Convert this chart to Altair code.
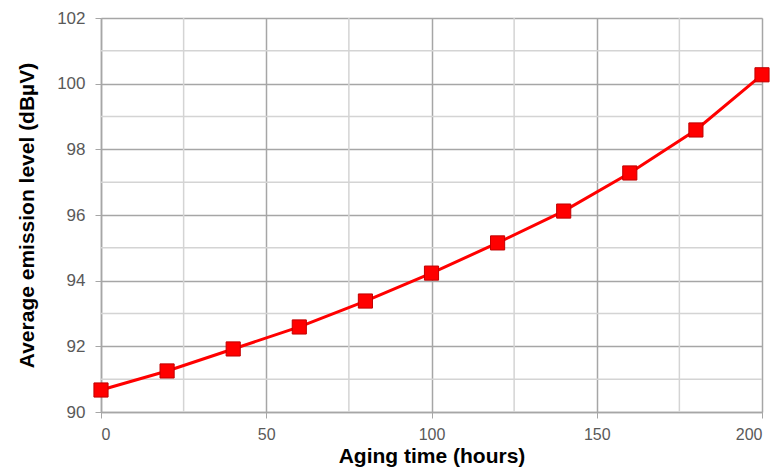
import altair as alt
import pandas as pd

hours = [0, 20, 40, 60, 80, 100, 120, 140, 160, 180, 200]
emission = [90.67, 91.25, 91.92, 92.59, 93.38, 94.23, 95.15, 96.12, 97.28, 98.59, 100.27]

x_major = [0, 50, 100, 150, 200]
x_minor = [25, 75, 125, 175]
y_major = [90, 92, 94, 96, 98, 100, 102]
y_minor = [91, 93, 95, 97, 99, 101]

df = pd.DataFrame({"hours": hours, "emission": emission})
xs = alt.Scale(domain=[0, 200], nice=False)
ys = alt.Scale(domain=[90, 102], nice=False, zero=False)

FONT = "Liberation Sans, Arial, sans-serif"

xaxis = alt.Axis(values=x_major, grid=True,
                 gridColor="#a6a6a6", gridWidth=1.5, tickSize=6, tickColor="#a6a6a6",
                 domainColor="#a6a6a6", domainWidth=1.5, labelFontSize=16, labelColor="#595959",
                 labelFont=FONT, titleFont=FONT, titleFontSize=21, titleFontWeight="bold",
                 titleColor="#000000", labelPadding=8, titlePadding=3)
yaxis = alt.Axis(values=y_major, grid=True,
                 gridColor="#a6a6a6", gridWidth=1.5, tickSize=6, tickColor="#a6a6a6",
                 domainColor="#a6a6a6", domainWidth=1.5, labelFontSize=17, labelColor="#595959",
                 labelFont=FONT, titleFont=FONT, titleFontSize=21, titleFontWeight="bold",
                 titleColor="#000000", labelPadding=10, titlePadding=19)
XT = "Aging time (hours)"
YT = "Average emission level (dBµV)"

xminor = alt.Chart(pd.DataFrame({"v": x_minor})).mark_rule(color="#d4d4d4", strokeWidth=1.5).encode(
    x=alt.X("v:Q", scale=xs, axis=xaxis, title=XT))
yminor = alt.Chart(pd.DataFrame({"v": y_minor})).mark_rule(color="#d4d4d4", strokeWidth=1.5).encode(
    y=alt.Y("v:Q", scale=ys, axis=yaxis, title=YT))

line = alt.Chart(df).mark_line(color="#ff0000", strokeWidth=3).encode(
    x=alt.X("hours:Q", scale=xs, axis=xaxis, title=XT),
    y=alt.Y("emission:Q", scale=ys, axis=yaxis, title=YT),
)
points = alt.Chart(df).mark_point(shape="square", filled=True, size=200, color="#ff0000",
                                  stroke="#c00000", strokeWidth=1, opacity=1).encode(
    x=alt.X("hours:Q", scale=xs, axis=xaxis, title=XT),
    y=alt.Y("emission:Q", scale=ys, axis=yaxis, title=YT))

chart = alt.layer(xminor, yminor, line, points).properties(
    width=661, height=394,
    padding={"left": 93, "top": 10, "right": 8, "bottom": 56},
    autosize=alt.AutoSizeParams(type="none"),
).configure_view(stroke="#bfbfbf", strokeWidth=1.5).configure(background="white")

chart.save("out.html", embed_options={"renderer": "svg", "actions": False})
